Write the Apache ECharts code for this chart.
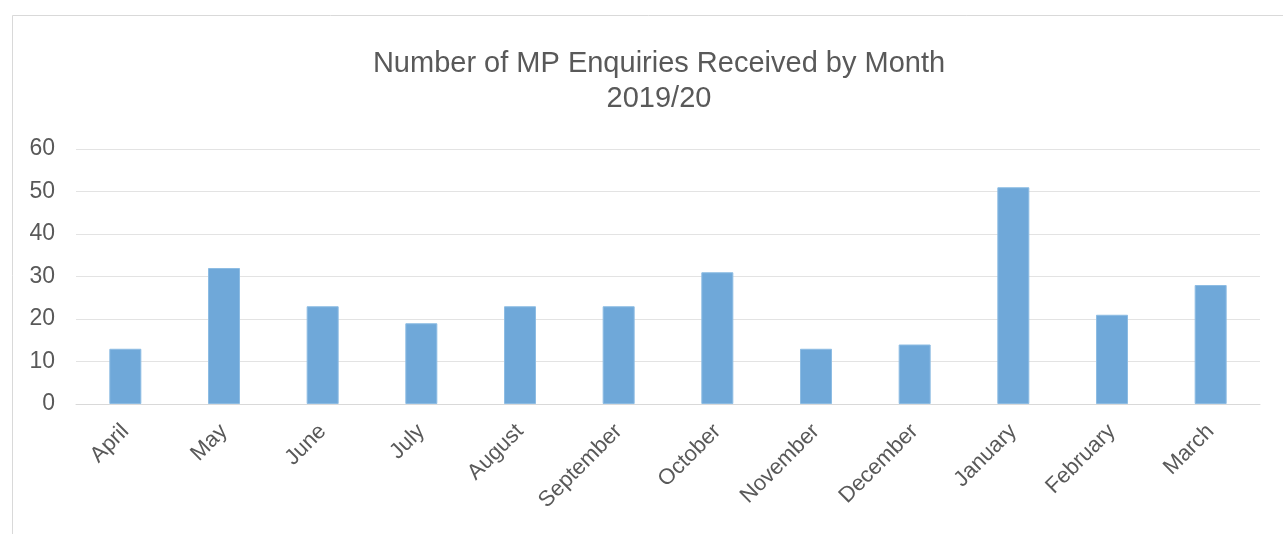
<!DOCTYPE html>
<html>
<head>
<meta charset="utf-8">
<script src="https://cdn.jsdelivr.net/npm/echarts@6/dist/echarts.min.js"></script>
<style>
  html, body { margin: 0; padding: 0; background: #ffffff; }
  #chart { width: 1283px; height: 534px; }
</style>
</head>
<body>
<div id="chart"></div>
<script>
// Monthly MP enquiries, financial year 2019/20
const months = ['April', 'May', 'June', 'July', 'August', 'September',
  'October', 'November', 'December', 'January', 'February', 'March'];
const enquiries = [13, 32, 23, 19, 23, 23, 31, 13, 14, 51, 21, 28];
const yTicks = [0, 10, 20, 30, 40, 50, 60];

const textColor = '#595959';
const fontFamily = '"Liberation Sans", Arial, Helvetica, sans-serif';

const chart = echarts.init(document.getElementById('chart'), null, { renderer: 'canvas' });
chart.setOption({
  backgroundColor: '#ffffff',
  animation: false,
  graphic: [{
    type: 'rect',
    shape: { x: 12.5, y: 15.5, width: 1300, height: 560 },
    style: { fill: null, stroke: '#d9d9d9', lineWidth: 1 },
    silent: true
  }],
  title: {
    text: 'Number of MP Enquiries Received by Month\n2019/20',
    left: 654,
    top: 41,
    textAlign: 'center',
    textStyle: {
      color: textColor,
      fontFamily: fontFamily,
      fontSize: 29,
      fontWeight: 'normal',
      lineHeight: 35
    }
  },
  grid: { left: 76, right: 23, top: 149, bottom: 130, containLabel: false },
  xAxis: {
    type: 'category',
    data: months,
    axisLine: { show: true, lineStyle: { color: '#d9d9d9', width: 1 } },
    axisTick: { show: false },
    axisLabel: {
      rotate: 45,
      margin: 24,
      color: textColor,
      fontFamily: fontFamily,
      fontSize: 22,
      interval: 0
    }
  },
  yAxis: {
    type: 'value',
    min: yTicks[0],
    max: yTicks[yTicks.length - 1],
    interval: yTicks[1] - yTicks[0],
    axisLine: { show: false },
    axisTick: { show: false },
    splitLine: { lineStyle: { color: '#e3e3e3', width: 1 } },
    axisLabel: {
      margin: 21,
      color: textColor,
      fontFamily: fontFamily,
      fontSize: 23
    }
  },
  series: [{
    type: 'bar',
    data: enquiries,
    barWidth: 32,
    itemStyle: { color: '#6fa8d9', borderColor: '#8dbce3', borderWidth: 1 }
  }]
});
</script>
</body>
</html>
